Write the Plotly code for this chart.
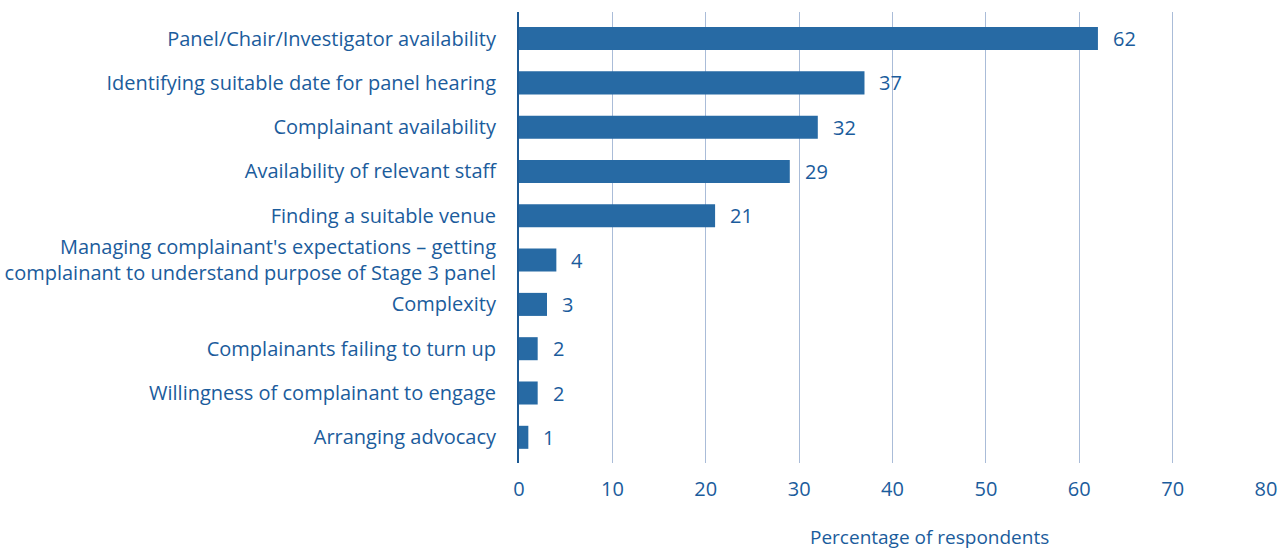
import plotly.graph_objects as go

categories = [
    "Panel/Chair/Investigator availability",
    "Identifying suitable date for panel hearing",
    "Complainant availability",
    "Availability of relevant staff",
    "Finding a suitable venue",
    "Managing complainant's expectations – getting<br>complainant to understand purpose of Stage 3 panel",
    "Complexity",
    "Complainants failing to turn up",
    "Willingness of complainant to engage",
    "Arranging advocacy",
]
values = [62, 37, 32, 29, 21, 4, 3, 2, 2, 1]
x_ticks = [0, 10, 20, 30, 40, 50, 60, 70, 80]

BAR = "#276aa4"
TEXT = "#1b5c9c"
GRID = "#aabcd8"
FONT = "Open Sans"

fig = go.Figure(
    go.Bar(
        x=values,
        y=list(range(len(categories))),
        orientation="h",
        marker=dict(color=BAR, line=dict(width=0)),
        width=0.52,
        hoverinfo="skip",
    )
)

for i, v in enumerate(values):
    fig.add_annotation(
        x=v, y=i, text=str(v), showarrow=False,
        xanchor="left", xshift=13,
        font=dict(family=FONT, size=20, color=TEXT),
    )

fig.add_annotation(
    x=0.55, y=0, xref="paper", yref="paper", yshift=-89,
    text="Percentage of respondents", showarrow=False,
    xanchor="center", yanchor="bottom",
    font=dict(family=FONT, size=19, color=TEXT),
)

fig.update_layout(
    width=1278, height=554,
    margin=dict(l=519, r=12, t=12, b=91),
    paper_bgcolor="white", plot_bgcolor="white",
    showlegend=False,
    font=dict(family=FONT, size=20, color=TEXT),
    xaxis=dict(
        range=[0, 80], tickvals=x_ticks,
        showgrid=True, gridcolor=GRID, gridwidth=1.3,
        zeroline=False, showline=False, ticks="",
        tickfont=dict(family=FONT, size=20, color=TEXT),
        ticklabelstandoff=12, automargin=False,
        fixedrange=True,
    ),
    yaxis=dict(
        range=[9.58, -0.6],
        tickvals=list(range(len(categories))),
        ticktext=categories,
        showgrid=False, zeroline=False,
        showline=True, linecolor="#1d5a94", linewidth=2,
        ticks="", ticklabelstandoff=17, automargin=False,
        tickfont=dict(family=FONT, size=20, color=TEXT),
        fixedrange=True,
    ),
)

fig.write_html("out.html")
